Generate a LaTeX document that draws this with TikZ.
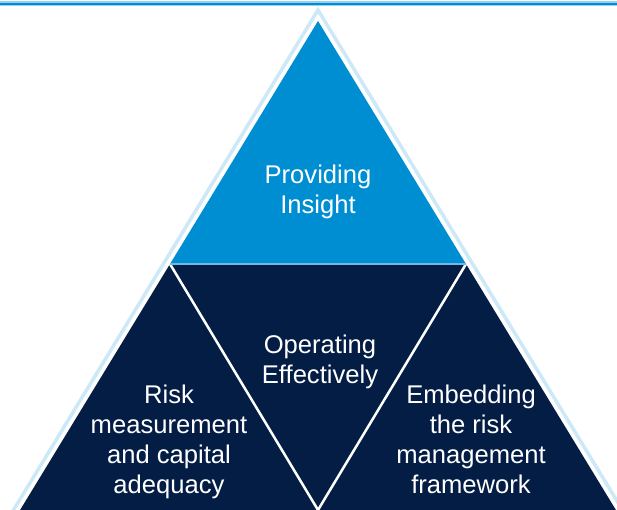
\documentclass[tikz,border=0pt]{standalone}
\usepackage{fontspec}
\setmainfont{Liberation Sans}
\definecolor{topblue}{RGB}{0,142,211}
\definecolor{navy}{RGB}{4,29,69}
\definecolor{paleblue}{RGB}{205,232,246}
\definecolor{rulelight}{RGB}{150,210,240}
\definecolor{divider}{RGB}{110,185,228}
\begin{document}
\begin{tikzpicture}[x=1pt,y=-1pt,
  lbl/.style={text=white, font=\fontsize{25.6}{30}\selectfont, align=center,
              inner sep=0pt, anchor=base}]
\useasboundingbox (0,0) rectangle (617,510);
% rule across the top
\fill[rulelight] (0,1) rectangle (617,6);
\draw[topblue, line width=2pt] (0,3.6) -- (617,3.6);
% pale outline of the pyramid
\draw[paleblue, line width=3.5pt, line join=miter] (318,10) -- (7.4,520) -- (628.6,520) -- cycle;
% upper segment
\fill[topblue] (318,21) -- (170,264) -- (466,264) -- cycle;
% lower band
\fill[navy] (170,264) -- (14,520) -- (622,520) -- (466,264) -- cycle;
% separators
\draw[white, line width=2.5pt] (170,264) -- (318,510) -- (466,264);
\draw[divider, line width=2pt] (170,264) -- (466,264);
% labels (anchored at the baseline of the last line)
\node[lbl] (insight) at (318,214) {Providing\\Insight};
\node[lbl] (operating) at (320,383) {Operating\\Effectively};
\node[lbl] (risk) at (169,493) {Risk\\measurement\\and capital\\adequacy};
\node[lbl] (embed) at (471,493) {Embedding\\the risk\\management\\framework};
\end{tikzpicture}
\end{document}
